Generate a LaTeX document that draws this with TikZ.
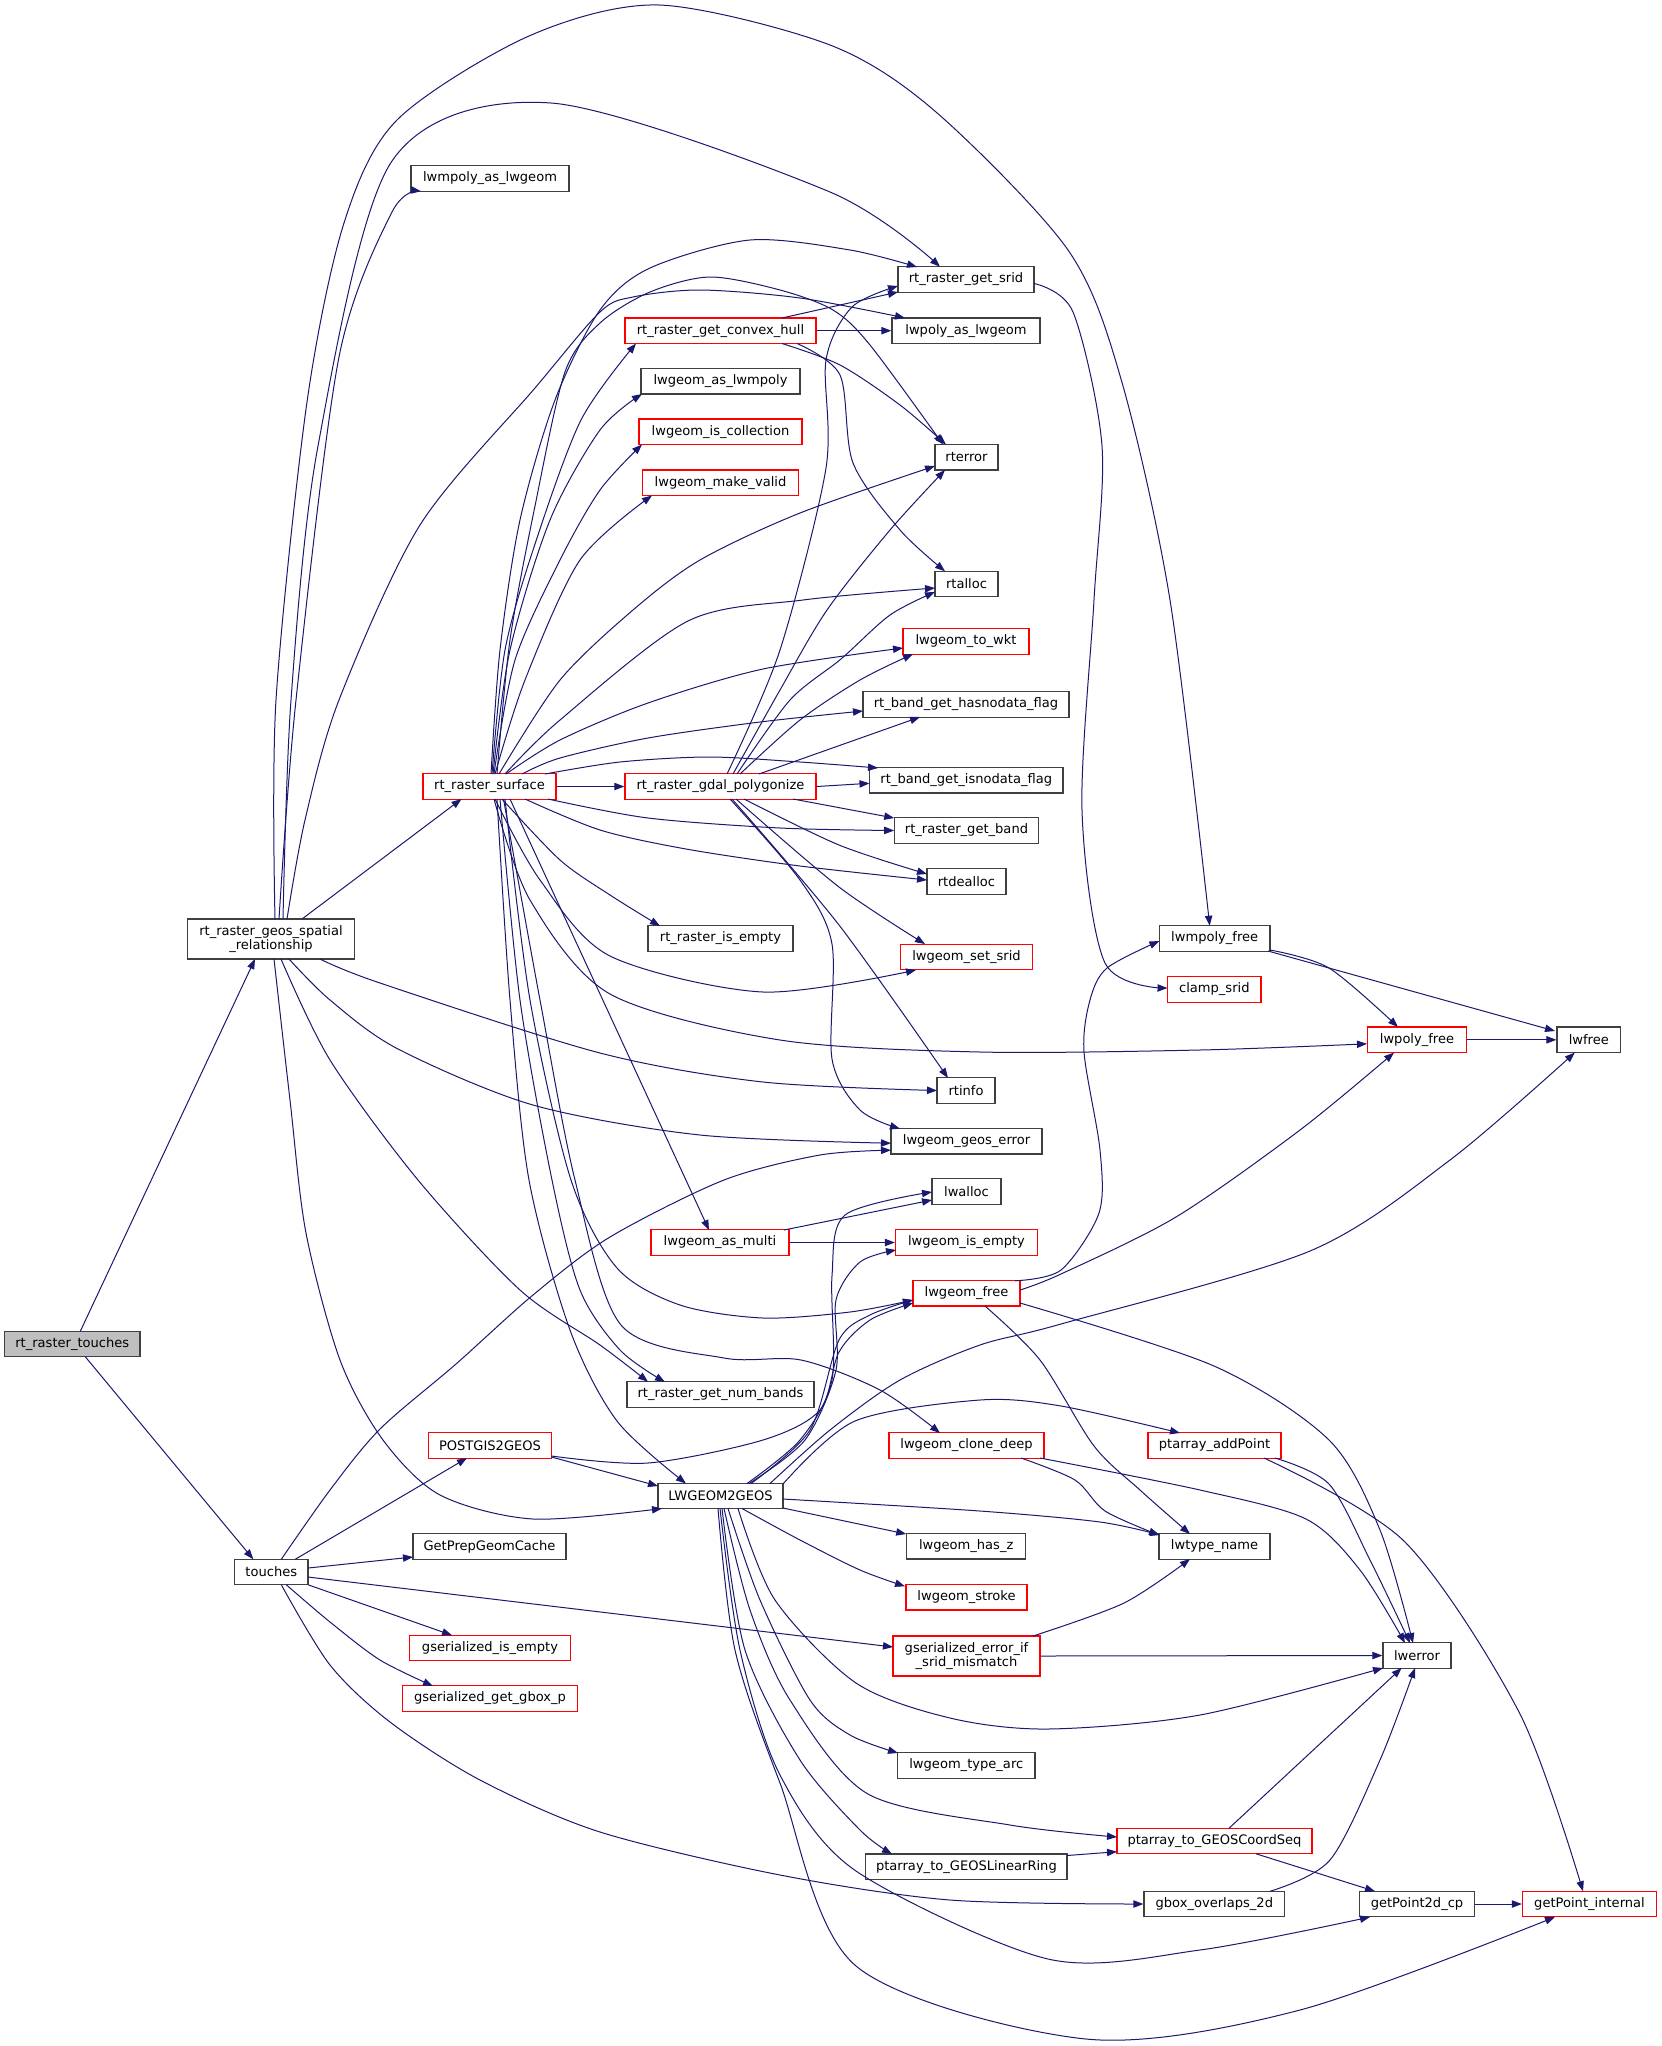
\documentclass[tikz,border=0pt]{standalone}
\usepackage{fontspec}
\setmainfont{DejaVu Sans}
\usetikzlibrary{arrows.meta,calc}
\definecolor{edgec}{HTML}{191970}
\definecolor{nodeb}{HTML}{404040}
\definecolor{nodeg}{HTML}{BFBFBF}
\definecolor{nodered}{HTML}{FF0000}
\begin{document}
\begin{tikzpicture}[x=0.75pt,y=-0.75pt,
  nb/.style={draw=nodeb,line width=1pt,fill=white,minimum height=19.1pt,inner sep=2pt,
    font=\fontsize{9.8pt}{10.6pt}\selectfont,align=center},
  nr/.style={nb,draw=nodered},
  e/.style={draw=edgec,line width=0.75pt,-{Triangle[length=7.5pt,width=5.5pt]}}]
\fill[white] (0,0) rectangle (1661,2046);
% nodes
\node[nb,fill=nodeg,minimum width=101.6pt] (T) at (72.3,1344) {rt\_raster\_touches};
\node[nb,minimum width=125.3pt,minimum height=30pt] (G) at (271,939) {rt\_raster\_geos\_spatial\\\_relationship};
\node[nb,minimum width=55pt] (Tc) at (271.3,1572) {touches};
\node[nb,minimum width=118.5pt] (LMAL) at (490,178.5) {lwmpoly\_as\_lwgeom};
\node[nr,minimum width=99.8pt] (S) at (489.5,786.5) {rt\_raster\_surface};
\node[nr,minimum width=92.3pt] (P2G) at (490,1445.5) {POSTGIS2GEOS};
\node[nb,minimum width=114.8pt] (GPC) at (489.5,1546.5) {GetPrepGeomCache};
\node[nr,minimum width=120.4pt] (GIE) at (490,1648) {gserialized\_is\_empty};
\node[nr,minimum width=131.3pt] (GGB) at (490,1698.5) {gserialized\_get\_gbox\_p};
\node[nr,minimum width=143.3pt] (CH) at (720.5,330.7) {rt\_raster\_get\_convex\_hull};
\node[nb,minimum width=119.3pt] (LAL) at (720.5,381.3) {lwgeom\_as\_lwmpoly};
\node[nr,minimum width=122.3pt] (LIC) at (720.5,431.7) {lwgeom\_is\_collection};
\node[nr,minimum width=117.4pt] (LMV) at (720.5,482.7) {lwgeom\_make\_valid};
\node[nr,minimum width=143.3pt] (PG) at (720.5,786.5) {rt\_raster\_gdal\_polygonize};
\node[nb,minimum width=108.8pt] (RIE) at (720.5,938.5) {rt\_raster\_is\_empty};
\node[nr,minimum width=103.5pt] (LAM) at (720,1242.5) {lwgeom\_as\_multi};
\node[nb,minimum width=140.3pt] (NB) at (720.5,1394.5) {rt\_raster\_get\_num\_bands};
\node[nb,minimum width=93.8pt] (L2G) at (720.5,1496) {LWGEOM2GEOS};
\node[nb,minimum width=102pt] (SRID) at (966,279.5) {rt\_raster\_get\_srid};
\node[nb,minimum width=111pt] (LPAL) at (966,330.7) {lwpoly\_as\_lwgeom};
\node[nb,minimum width=47.3pt] (RTE) at (966.5,457.3) {rterror};
\node[nb,minimum width=47.3pt] (RTA) at (966.5,584) {rtalloc};
\node[nr,minimum width=94.5pt] (WKT) at (966,641.5) {lwgeom\_to\_wkt};
\node[nb,minimum width=154.5pt] (HND) at (966,704.5) {rt\_band\_get\_hasnodata\_flag};
\node[nb,minimum width=145.1pt] (IND) at (966.3,780.3) {rt\_band\_get\_isnodata\_flag};
\node[nb,minimum width=108.2pt] (GB) at (966.5,830.5) {rt\_raster\_get\_band};
\node[nb,minimum width=59.3pt] (RTD) at (966.5,881.5) {rtdealloc};
\node[nr,minimum width=99pt] (LSS) at (966.5,957) {lwgeom\_set\_srid};
\node[nb,minimum width=43.5pt] (RTI) at (966,1090.5) {rtinfo};
\node[nb,minimum width=113.3pt] (LGE) at (966.5,1141.2) {lwgeom\_geos\_error};
\node[nb,minimum width=51.8pt] (LWA) at (966.5,1191.5) {lwalloc};
\node[nr,minimum width=106.5pt] (LIE) at (966.5,1242.5) {lwgeom\_is\_empty};
\node[nr,minimum width=80.3pt] (LGF) at (966.5,1293.3) {lwgeom\_free};
\node[nr,minimum width=116.3pt] (LCD) at (966.5,1445.5) {lwgeom\_clone\_deep};
\node[nb,minimum width=89.3pt] (LHZ) at (966.2,1546.3) {lwgeom\_has\_z};
\node[nr,minimum width=90.8pt] (LST) at (966.5,1597.3) {lwgeom\_stroke};
\node[nr,minimum width=110.3pt,minimum height=30pt] (GEM) at (966.5,1656) {gserialized\_error\_if\\\_srid\_mismatch};
\node[nb,minimum width=103.1pt] (LTA) at (966.3,1765.5) {lwgeom\_type\_arc};
\node[nb,minimum width=151pt] (PLR) at (966.4,1866.8) {ptarray\_to\_GEOSLinearRing};
\node[nb,minimum width=83pt] (LMF) at (1214.7,938.5) {lwmpoly\_free};
\node[nr,minimum width=70.1pt] (CS) at (1214.3,989.5) {clamp\_srid};
\node[nr,minimum width=99.8pt] (PAP) at (1214.5,1445.5) {ptarray\_addPoint};
\node[nb,minimum width=83.3pt] (LTN) at (1214.5,1546.5) {lwtype\_name};
\node[nr,minimum width=146.3pt] (PCS) at (1214.5,1841) {ptarray\_to\_GEOSCoordSeq};
\node[nb,minimum width=105.4pt] (GBO) at (1214.3,1904) {gbox\_overlaps\_2d};
\node[nr,minimum width=74.4pt] (LPF) at (1417,1039.8) {lwpoly\_free};
\node[nb,minimum width=51pt] (LWE) at (1417,1655.5) {lwerror};
\node[nb,minimum width=86.3pt] (GP2) at (1417,1904) {getPoint2d\_cp};
\node[nb,minimum width=47.6pt] (LWF) at (1588.8,1039.8) {lwfree};
\node[nr,minimum width=100.5pt] (GPI) at (1589.5,1904) {getPoint\_internal};
% rt_raster_touches
\draw[e] ($(T)+(8,-12.75)$) -- ($(G)+(-16,20)$);
\draw[e] ($(T)+(13,12.75)$) -- ($(Tc)+(-18,-12.75)$);
% rt_raster_geos_spatial_relationship
\draw[e] plot[smooth] coordinates {($(G)+(8,-20)$) (296,700) (339,357) (392,212) ($(LMAL)+(-69,12.75)$)};
\draw[e] plot[smooth] coordinates {($(G)+(12,-20)$) (291,700) (318,446) (392,161) (551,103) (830,192) ($(SRID)+(-26,-12.75)$)};
\draw[e] plot[smooth] coordinates {($(G)+(4,-20)$) (276,700) (307,402) (344,223) (397,120) (529,36) (659,5) (830,45) (936,112) (1068,250) (1121,379) (1170,600) ($(LMF)+(-5,-12.75)$)};
\draw[e] plot[smooth] coordinates {($(G)+(16,-20)$) (305,820) (339,700) (420,525) (535,388) (600,312) (633,297) (700,290) (800,298) ($(LPAL)+(-61,-12.75)$)};
\draw[e] ($(G)+(31,-20)$) -- ($(S)+(-28,12.5)$);
\draw[e] plot[smooth] coordinates {($(G)+(49,20)$) (380,983) (600,1053) (763,1082) ($(RTI)+(-29,0)$)};
\draw[e] plot[smooth] coordinates {($(G)+(18,20)$) (330,1000) (398,1049) (533,1105) (700,1135) ($(LGE)+(-75.5,2)$)};
\draw[e] plot[smooth] coordinates {($(G)+(10,20)$) (330,1060) (418,1180) (520,1290) (600,1345) ($(NB)+(-72.5,-12.75)$)};
\draw[e] plot[smooth] coordinates {($(G)+(3,20)$) (290,1100) (306,1233) (340,1360) (383,1440) (440,1495) (533,1519) ($(L2G)+(-58.5,12.5)$)};
% touches
\draw[e] plot[smooth] coordinates {($(Tc)+(10,-12.75)$) (330,1490) (380,1429) (456,1364) (533,1295) (610,1237) (724,1180) (820,1155) ($(LGE)+(-75.5,9)$)};
\draw[e] ($(Tc)+(24,-12.75)$) -- ($(P2G)+(-23,12.5)$);
\draw[e] ($(Tc)+(36.7,-4)$) -- ($(GPC)+(-76.5,10.5)$);
\draw[e] ($(Tc)+(36.7,5)$) -- ($(GEM)+(-73.5,-9)$);
\draw[e] ($(Tc)+(36.7,12.75)$) -- ($(GIE)+(-38,-12.75)$);
\draw[e] plot[smooth] coordinates {($(Tc)+(15,12.75)$) (330,1622) (380,1660) ($(GGB)+(-57,-12.5)$)};
\draw[e] plot[smooth] coordinates {($(Tc)+(10,12.75)$) (330,1665) (390,1722) (480,1780) (600,1832) (780,1875) (950,1900) (GBO.west)};
% rt_raster_surface
\draw[e] plot[smooth] coordinates {($(S)+(2.5,-12.5)$) (505,650) (535,544) (581,420) ($(CH)+(-84.5,12.8)$)};
\draw[e] plot[smooth] coordinates {($(S)+(1.5,-12.5)$) (500,650) (520,520) (555,400) (600,310) (650,268) (750,240) (850,250) ($(SRID)+(-49,-12.5)$)};
\draw[e] plot[smooth] coordinates {($(S)+(7.5,-12.5)$) (510,640) (535,506) (565,372) (600,323) (650,292) (710,277) (780,290) (833,310) (870,345) ($(RTE)+(-23.5,-12.8)$)};
\draw[e] plot[smooth] coordinates {($(S)+(3.5,-12.5)$) (510,650) (550,520) (600,430) ($(LAL)+(-78.5,12.7)$)};
\draw[e] plot[smooth] coordinates {($(S)+(4.5,-12.5)$) (515,660) (560,560) (600,490) ($(LIC)+(-78.5,12.8)$)};
\draw[e] plot[smooth] coordinates {($(S)+(5.5,-12.5)$) (525,680) (580,560) ($(LMV)+(-68.5,12.8)$)};
\draw[e] plot[smooth] coordinates {($(S)+(9.5,-12.5)$) (560,680) (633,610) (700,560) (800,513) ($(RTE)+(-31.5,8.7)$)};
\draw[e] plot[smooth] coordinates {($(S)+(15.5,-12.5)$) (560,720) (688,621) (803,600) ($(RTA)+(-31.5,4)$)};
\draw[e] plot[smooth] coordinates {($(S)+(16.5,-12.5)$) (560,740) (648,703) (763,669) ($(WKT)+(-63,6.5)$)};
\draw[e] plot[smooth] coordinates {($(S)+(32.5,-12.5)$) (560,758) (648,738) (760,722) ($(HND)+(-103,6.5)$)};
\draw[e] plot[smooth] coordinates {($(S)+(55.5,-12.5)$) (620,762) (709,757) (800,762) ($(IND)+(-88.3,-12.3)$)};
\draw[e] (S.east) -- (PG.west);
\draw[e] plot[smooth] coordinates {($(S)+(58.5,12.5)$) (648,818) (780,828) ($(GB)+(-72.3,0)$)};
\draw[e] plot[smooth] coordinates {($(S)+(35.5,12.5)$) (600,830) (686,849) (800,866) ($(RTD)+(-39.5,-1.5)$)};
\draw[e] plot[smooth] coordinates {($(S)+(12.5,12.5)$) (560,860) (610,895) ($(RIE)+(-60.5,-12.5)$)};
\draw[e] plot[smooth] coordinates {($(S)+(5.5,12.5)$) (540,880) (610,956) (763,992) ($(LSS)+(-50.5,13)$)};
\draw[e] plot[smooth] coordinates {($(S)+(4.5,12.5)$) (530,900) (610,994) (780,1040) (980,1052) (1200,1050) ($(LPF)+(-50,4)$)};
\draw[e] ($(S)+(20.5,12.5)$) -- ($(LAM)+(-11,-12.5)$);
\draw[e] plot[smooth] coordinates {($(S)+(10.5,12.5)$) (520,1000) (552,1180) (580,1290) (620,1350) ($(NB)+(-55.5,-12.5)$)};
\draw[e] plot[smooth] coordinates {($(S)+(7.5,12.5)$) (510,1000) (529,1180) (570,1330) (617,1421) ($(L2G)+(-34.5,-12.5)$)};
\draw[e] plot[smooth] coordinates {($(S)+(15.5,12.5)$) (530,1000) (571,1180) (617,1268) (680,1305) (763,1318) (850,1312) ($(LGF)+(-53.5,6.7)$)};
\draw[e] plot[smooth] coordinates {($(S)+(14,12.5)$) (540,1000) (575,1180) (621,1325) (724,1358) (801,1360) (880,1390) ($(LCD)+(-26.5,-12.5)$)};
% rt_raster_gdal_polygonize
\draw[e] plot[smooth] coordinates {($(PG)+(6.5,-12.5)$) (780,650) (826,468) (826,360) (852,307) ($(SRID)+(-68,6.5)$)};
\draw[e] plot[smooth] coordinates {($(PG)+(12.5,-12.5)$) (780,690) (827,610) (890,530) ($(RTE)+(-21.5,12.7)$)};
\draw[e] plot[smooth] coordinates {($(PG)+(16.5,-12.5)$) (790,700) (841,659) (890,615) ($(RTA)+(-31.5,8)$)};
\draw[e] plot[smooth] coordinates {($(PG)+(19.5,-12.5)$) (800,720) (860,680) ($(WKT)+(-53,12.5)$)};
\draw[e] ($(PG)+(38.5,-12.5)$) -- ($(HND)+(-46,12.5)$);
\draw[e] (PG.east) -- ($(IND)+(-96.8,3)$);
\draw[e] ($(PG)+(72.5,12.5)$) -- ($(GB)+(-72.3,-12.5)$);
\draw[e] plot[smooth] coordinates {($(PG)+(23.5,12.5)$) (839,845) ($(RTD)+(-39.5,-7.5)$)};
\draw[e] plot[smooth] coordinates {($(PG)+(15.5,12.5)$) (839,887) ($(LSS)+(-41.5,-13)$)};
\draw[e] plot[smooth] coordinates {($(PG)+(11.5,12.5)$) (839,925) ($(RTI)+(-18,-12.5)$)};
\draw[e] plot[smooth] coordinates {($(PG)+(9.5,12.5)$) (800,880) (832,944) (832,1059) (860,1110) ($(LGE)+(-66.5,-12.5)$)};
% rt_raster_get_convex_hull
\draw[e] ($(CH)+(61.5,-12.7)$) -- ($(SRID)+(-68,12.5)$);
\draw[e] (CH.east) -- (LPAL.west);
\draw[e] plot[smooth] coordinates {($(CH)+(61.5,12.8)$) (840,365) (900,405) ($(RTE)+(-20.5,-12.8)$)};
\draw[e] plot[smooth] coordinates {($(CH)+(76.5,12.8)$) (840,375) (853,463) (900,530) ($(RTA)+(-21.5,-12.8)$)};
% rt_raster_get_srid
\draw[e] plot[smooth] coordinates {($(SRID)+(68,4)$) (1073,312) (1102,446) (1094,600) (1082,810) (1105,963) ($(CS)+(-46.8,-1.5)$)};
% lwgeom_as_multi
\draw[e] ($(LAM)+(64,-12.5)$) -- ($(LWA)+(-34.5,8.5)$);
\draw[e] (LAM.east) -- (LIE.west);
% lwgeom_free
\draw[e] plot[smooth] coordinates {($(LGF)+(48.5,-12.5)$) (1061,1270) (1099,1213) (1100,1150) (1084,1052) (1090,1000) (1107,968) ($(LMF)+(-55.3,2.5)$)};
\draw[e] plot[smooth] coordinates {($(LGF)+(53.5,-3.3)$) (1061,1274) (1176,1217) (1300,1130) ($(LPF)+(-23,12.8)$)};
\draw[e] plot[smooth] coordinates {($(LGF)+(18.5,12.7)$) (1040,1360) (1094,1446) (1140,1490) ($(LTN)+(-24.5,-12.5)$)};
\draw[e] plot[smooth] coordinates {($(LGF)+(53.5,9.7)$) (1214,1366) (1329,1440) (1380,1530) ($(LWE)+(-4,-12.5)$)};
% POSTGIS2GEOS
\draw[e] ($(P2G)+(61.5,11.5)$) -- ($(L2G)+(-62.5,-10)$);
\draw[e] plot[smooth] coordinates {($(P2G)+(61.5,10.5)$) (648,1463) (763,1440) (820,1410) (839,1352) (870,1320) ($(LGF)+(-53.5,9.7)$)};
% LWGEOM2GEOS
\draw[e] plot[smooth] coordinates {($(L2G)+(26.5,-12.5)$) (800,1440) (832,1380) (832,1276) (845,1215) ($(LWA)+(-34.5,0.5)$)};
\draw[e] plot[smooth] coordinates {($(L2G)+(28.5,-12.5)$) (805,1440) (836,1370) (836,1300) (860,1262) ($(LIE)+(-70.5,7.5)$)};
\draw[e] plot[smooth] coordinates {($(L2G)+(30.5,-12.5)$) (810,1430) (839,1340) (870,1315) ($(LGF)+(-53.5,6.7)$)};
\draw[e] plot[smooth] coordinates {($(L2G)+(49.5,-12.5)$) (830,1430) (900,1380) (980,1345) (1061,1324) (1310,1251) (1450,1160) ($(LWF)+(-14,12.8)$)};
\draw[e] plot[smooth] coordinates {($(L2G)+(62.5,-12)$) (855,1421) (980,1400) (1061,1406) ($(PAP)+(-34.5,-12.5)$)};
\draw[e] plot[smooth] coordinates {($(L2G)+(62.5,3)$) (980,1511) (1100,1522) ($(LTN)+(-54.5,-11.5)$)};
\draw[e] ($(L2G)+(62.5,12)$) -- ($(LHZ)+(-60,-12.3)$);
\draw[e] plot[smooth] coordinates {($(L2G)+(21.5,12.5)$) (800,1540) (860,1570) ($(LST)+(-61.5,-11)$)};
\draw[e] plot[smooth] coordinates {($(L2G)+(17.5,12.5)$) (775,1600) (856,1683) (950,1718) (1048,1729) (1200,1715) ($(LWE)+(-34,12.5)$)};
\draw[e] plot[smooth] coordinates {($(L2G)+(7.5,12.5)$) (760,1600) (810,1700) (850,1735) ($(LTA)+(-68.3,-12.5)$)};
\draw[e] plot[smooth] coordinates {($(L2G)+(3.5,12.5)$) (750,1610) (790,1700) (868,1794) (1010,1825) ($(PCS)+(-97.5,-4)$)};
\draw[e] plot[smooth] coordinates {($(L2G)+(1.5,12.5)$) (745,1650) (800,1760) (860,1830) ($(PLR)+(-74.4,-12.8)$)};
\draw[e] plot[smooth] coordinates {($(L2G)+(-0.5,12.5)$) (740,1650) (780,1775) (856,1871) (1048,1959) (1200,1950) ($(GP2)+(-47,13)$)};
\draw[e] plot[smooth] coordinates {($(L2G)+(-2.5,12.5)$) (735,1650) (780,1783) (856,1966) (1086,2039) (1300,2010) ($(GPI)+(-34.5,13)$)};
% others
\draw[e] plot[smooth] coordinates {($(LCD)+(54.5,12.5)$) (1075,1480) (1105,1511) ($(LTN)+(-55.5,-11.5)$)};
\draw[e] plot[smooth] coordinates {($(LCD)+(73.5,12.5)$) (1200,1490) (1306,1519) (1360,1570) ($(LWE)+(-12,-12.5)$)};
\draw[e] plot[smooth] coordinates {($(PAP)+(60.5,12.5)$) (1329,1484) (1370,1560) ($(LWE)+(-7,-12.5)$)};
\draw[e] plot[smooth] coordinates {($(PAP)+(49.5,12.5)$) (1405,1542) (1520,1714) ($(GPI)+(-6.5,-12.75)$)};
\draw[e] plot[smooth] coordinates {($(GEM)+(66.5,-20)$) (1124,1603) ($(LTN)+(-24.5,12.5)$)};
\draw[e] (GEM.east) -- (LWE.west);
\draw[e] ($(PLR)+(100.6,-11.3)$) -- ($(PCS)+(-97.5,10.7)$);
\draw[e] ($(PCS)+(14.5,-12.75)$) -- ($(LWE)+(-15.4,12.5)$);
\draw[e] ($(PCS)+(41.5,12.75)$) -- ($(GP2)+(-42,-12.75)$);
\draw[e] plot[smooth] coordinates {($(GBO)+(55.7,-12.75)$) (1330,1860) (1380,1760) ($(LWE)+(-2,12.5)$)};
\draw[e] (GP2.east) -- (GPI.west);
\draw[e] plot[smooth] coordinates {($(LMF)+(55.3,11.5)$) (1329,968) ($(LPF)+(-19,-12.75)$)};
\draw[e] ($(LMF)+(53.3,12.5)$) -- ($(LWF)+(-33.8,-8.8)$);
\draw[e] (LPF.east) -- (LWF.west);
\end{tikzpicture}
\end{document}
